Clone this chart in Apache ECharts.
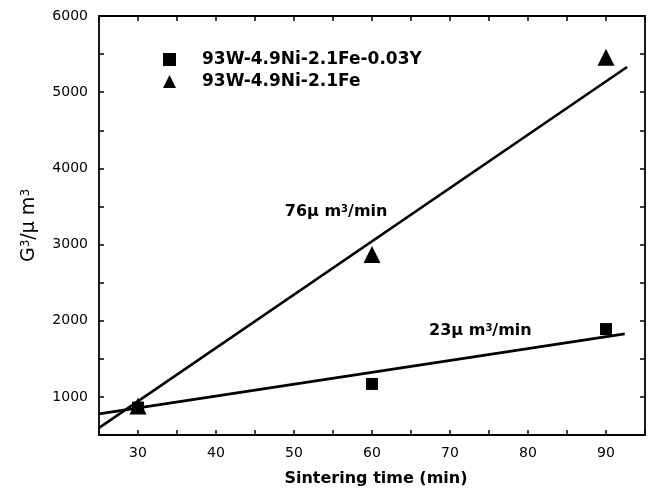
<!DOCTYPE html>
<html>
<head>
<meta charset="utf-8">
<script src="https://cdn.jsdelivr.net/npm/echarts@6/dist/echarts.min.js"></script>
<style>
  html, body { margin: 0; padding: 0; background: #fff; }
  #chart { width: 648px; height: 490px; }
</style>
</head>
<body>
<div id="chart"></div>
<script>
// 数据
const sinterTime = [30, 60, 90];
const yAlloy = [860, 1170, 1890];      // 93W-4.9Ni-2.1Fe-0.03Y
const plainAlloy = [880, 2870, 5460];  // 93W-4.9Ni-2.1Fe
const fitY = [[25, 777], [92.4, 1827]];
const fitPlain = [[25, 593], [92.7, 5330]];
const seriesNames = ['93W-4.9Ni-2.1Fe-0.03Y', '93W-4.9Ni-2.1Fe'];

const fontFamily = '"DejaVu Sans", "Liberation Sans", Arial, sans-serif';

const chart = echarts.init(document.getElementById('chart'));

function pairs(xs, ys) {
    return xs.map((x, i) => [x, ys[i]]);
}

const axisCommon = {
    axisLine: { show: true, onZero: false, lineStyle: { color: '#000', width: 1.8 } },
    axisTick: { show: true, inside: true, length: 5, lineStyle: { color: '#000', width: 1.5 } },
    splitLine: { show: false }
};

const supStyle = { fontSize: 10, verticalAlign: 'top', padding: [0, 0, 6, 0], fontWeight: 'bold', color: '#000', fontFamily: fontFamily };

const option = {
    animation: false,
    backgroundColor: '#fff',
    grid: { left: 99, right: 3, top: 16, bottom: 55, containLabel: false, outerBoundsMode: 'none' },
    legend: {
        orient: 'vertical',
        left: 158,
        top: 46,
        itemWidth: 13,
        itemHeight: 13,
        itemGap: 5,
        textStyle: {
            fontFamily: fontFamily,
            fontWeight: 'bold',
            fontSize: 17,
            color: '#000',
            padding: [0, 0, 0, 21]
        },
        data: [
            { name: seriesNames[0], icon: 'rect' },
            { name: seriesNames[1], icon: 'triangle' }
        ]
    },
    xAxis: [
        Object.assign({
            type: 'value',
            min: 25,
            max: 95,
            interval: 5,
            name: 'Sintering time (min)',
            nameLocation: 'middle',
            nameGap: 36,
            nameTextStyle: { fontFamily: fontFamily, fontWeight: 'bold', fontSize: 16, color: '#000', padding: [0, 0, 0, 8] },
            axisLabel: {
                margin: 11,
                fontFamily: fontFamily,
                fontSize: 14,
                color: '#000',
                formatter: v => (v % 10 === 0 ? String(v) : '')
            }
        }, axisCommon),
        Object.assign({
            type: 'value',
            position: 'top',
            min: 25,
            max: 95,
            interval: 5,
            axisLabel: { show: false }
        }, axisCommon)
    ],
    yAxis: [
        Object.assign({
            type: 'value',
            min: 500,
            max: 6000,
            interval: 500,
            name: 'G{sup|3}/μ m{sup|3}',
            nameLocation: 'middle',
            nameGap: 60,
            nameTextStyle: {
                fontFamily: fontFamily,
                fontSize: 19,
                color: '#000',
                rich: {
                    sup: { fontSize: 12, verticalAlign: 'top', lineHeight: 12, padding: [0, 0, 9, 0], color: '#000', fontFamily: fontFamily }
                }
            },
            axisLabel: {
                margin: 11,
                fontFamily: fontFamily,
                fontSize: 14,
                color: '#000',
                formatter: v => (v % 1000 === 0 ? String(v) : '')
            }
        }, axisCommon),
        Object.assign({
            type: 'value',
            position: 'right',
            min: 500,
            max: 6000,
            interval: 500,
            axisLabel: { show: false }
        }, axisCommon)
    ],
    series: [
        {
            name: seriesNames[0],
            type: 'scatter',
            symbol: 'rect',
            symbolSize: 12,
            itemStyle: { color: '#000', opacity: 1 },
            data: pairs(sinterTime, yAlloy),
            z: 3
        },
        {
            name: seriesNames[1],
            type: 'scatter',
            symbol: 'triangle',
            symbolSize: 17,
            itemStyle: { color: '#000', opacity: 1 },
            data: pairs(sinterTime, plainAlloy),
            z: 3
        },
        {
            name: 'fitY',
            type: 'line',
            showSymbol: false,
            symbol: 'none',
            lineStyle: { color: '#000', width: 2.6 },
            data: fitY,
            markPoint: {
                symbol: 'circle',
                symbolSize: 0,
                label: {
                    show: true,
                    position: 'inside',
                    formatter: '23μ m{sup|3}/min',
                    fontFamily: fontFamily,
                    fontWeight: 'bold',
                    fontSize: 16,
                    color: '#000',
                    rich: { sup: supStyle }
                },
                data: [{ coord: [73.9, 1866] }]
            }
        },
        {
            name: 'fitPlain',
            type: 'line',
            showSymbol: false,
            symbol: 'none',
            lineStyle: { color: '#000', width: 2.6 },
            data: fitPlain,
            markPoint: {
                symbol: 'circle',
                symbolSize: 0,
                label: {
                    show: true,
                    position: 'inside',
                    formatter: '76μ m{sup|3}/min',
                    fontFamily: fontFamily,
                    fontWeight: 'bold',
                    fontSize: 16,
                    color: '#000',
                    rich: { sup: supStyle }
                },
                data: [{ coord: [55.4, 3428] }]
            }
        }
    ]
};

chart.setOption(option);
</script>
</body>
</html>
